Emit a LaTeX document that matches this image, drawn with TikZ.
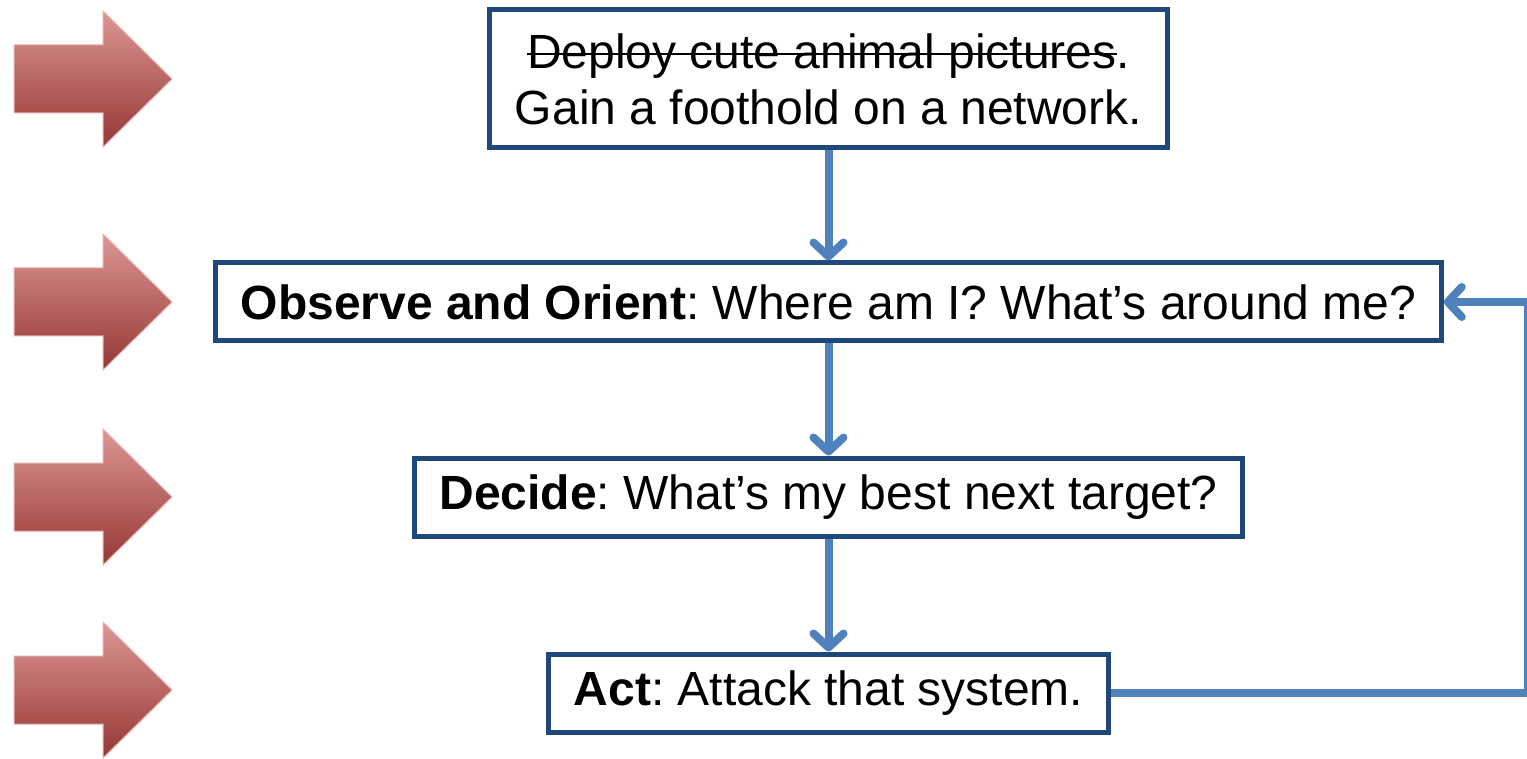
\documentclass[tikz,border=0pt]{standalone}
\usepackage{fontspec}
\setmainfont{Liberation Sans}
\usetikzlibrary{arrows.meta,positioning}
\definecolor{boxblue}{RGB}{31,73,125}
\definecolor{flowblue}{RGB}{79,129,189}
\definecolor{redtop}{RGB}{221,150,148}
\definecolor{redbot}{RGB}{149,55,53}
\definecolor{redrim}{RGB}{230,175,172}
\newlength\strikelen
\newcommand\strikeout[1]{\settowidth{\strikelen}{#1}\rlap{\rule[0.27em]{\strikelen}{1pt}}#1}
\frenchspacing

\begin{document}
\begin{tikzpicture}[x=0.5pt,y=-0.5pt,font=\fontsize{24}{28}\selectfont,
    stage/.style={draw=boxblue,line width=2.5pt,fill=white,inner xsep=12.5pt,minimum height=39pt,align=center},
    flow/.style={draw=flowblue,line width=4pt,-{Straight Barb[length=7pt,width=15pt,line width=4pt,line cap=round,line join=round]}},
    redarrow/.style={draw=redrim,line width=0.5pt,top color=redtop,bottom color=redbot}]
  \useasboundingbox (0,0) rectangle (1527,759);
  % side markers
  \foreach \yc in {79,302,497,690}
    \path[redarrow] (14,\yc-34) -- (103,\yc-34) -- (103,\yc-68) -- (172,\yc) -- (103,\yc+68) -- (103,\yc+34) -- (14,\yc+34) -- cycle;
  \node[stage,minimum height=69pt] (foothold) at (828.5,79) {\strikeout{Deploy cute animal pictures}.\\Gain a foothold on a network.};
  \node[stage] (observe) at (828.5,302) {\textbf{Observe and Orient}: Where am I? What’s around me?};
  \node[stage] (decide) at (828.5,497) {\textbf{Decide}: What’s my best next target?};
  \node[stage] (act) at (828.5,693) {\textbf{Act}: Attack that system.};
  \coordinate (loopcorner) at (1528,690);
  \draw[flow] (foothold.south) -- (observe.north);
  \draw[flow] (observe.south) -- (decide.north);
  \draw[flow] (decide.south) -- (act.north);
  \draw[flow] (act.east) -- (act.east -| loopcorner) |- (observe.east);
\end{tikzpicture}
\end{document}
